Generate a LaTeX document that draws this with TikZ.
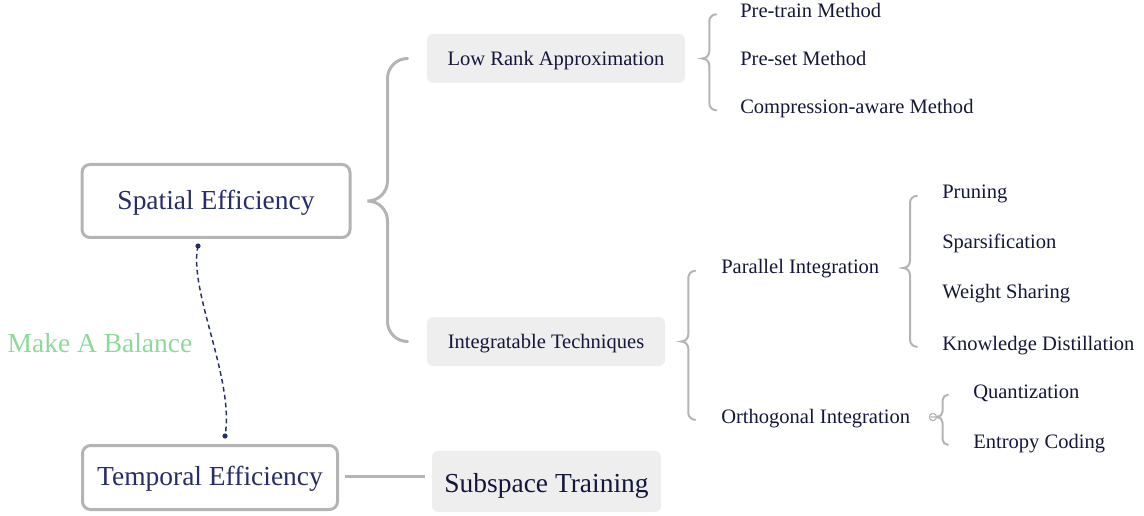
\documentclass[tikz,border=0pt]{standalone}
\usepackage{fontspec}
\setmainfont{Liberation Serif}
\usetikzlibrary{calc}
\definecolor{navy}{RGB}{38,45,105}
\definecolor{ink}{RGB}{20,22,58}
\definecolor{linegray}{RGB}{180,180,180}
\definecolor{boxgray}{RGB}{238,238,238}
\definecolor{balgreen}{RGB}{140,218,152}
\def\px{0.75pt}
\def\leaf{\node[anchor=base west,text=ink,inner sep=0pt,text height=7pt,text depth=2.2pt,font=\fontsize{15.4}{18}\selectfont]}
% brace from a tip coordinate to the first and last child
\newcommand\bracelink[5][1.5pt]{%
  \draw[color=linegray, line width=#1, line cap=round]
    ($ (#3.west -| #2) + (2*#5,0) $) to[out=180,in=90] ($ (#3.west -| #2) + (#5,-#5) $)
    -- ($ (#2) + (#5,#5) $) to[out=270,in=0] (#2)
    to[out=0,in=90] ($ (#2) + (#5,-#5) $)
    -- ($ (#4.west -| #2) + (#5,#5) $) to[out=270,in=180] ($ (#4.west -| #2) + (2*#5,0) $);}
\tikzset{
  topic/.style={draw=linegray, line width=3*\px, rounded corners=8*\px, fill=white, text=navy,
    inner sep=0pt, text height=15pt, text depth=2.4pt, font=\fontsize{20.6}{24}\selectfont},
  branch/.style={fill=boxgray, rounded corners=6*\px, text=ink, inner sep=0pt,
    text height=11pt, text depth=0.6pt, font=\fontsize{15.4}{18}\selectfont},
}

\begin{document}
\begin{tikzpicture}[x=\px,y=\px]
\useasboundingbox (0,0) rectangle (1144,-516);

\node[topic, minimum width=268*\px, minimum height=73*\px] (spatial) at (216,-201) {Spatial Efficiency};
\node[topic, minimum width=255*\px, minimum height=64*\px] (temporal) at (210,-477.5) {Temporal Efficiency};
\node[branch, minimum width=229*\px, minimum height=61*\px, text height=16pt, text depth=0.2pt,
  font=\fontsize{20.6}{24}\selectfont] (subspace) at (546.5,-481.5) {Subspace Training};
\node[branch, minimum width=258*\px, minimum height=49*\px] (lowrank) at (556,-58.5) {Low Rank Approximation};
\node[branch, minimum width=238*\px, minimum height=49*\px] (integ) at (546,-341.5) {Integratable Techniques};

% low rank methods
\leaf (pretrain) at (740,-17.5) {Pre-train Method};
\leaf (preset) at (740,-65.5) {Pre-set Method};
\leaf (compaware) at (740,-113.5) {Compression-aware Method};

% integration
\leaf (parallel) at (721,-274) {Parallel Integration};
\leaf (ortho) at (721,-423) {Orthogonal Integration};
\leaf (pruning) at (942,-199) {Pruning};
\leaf (sparse) at (942,-249) {Sparsification};
\leaf (wshare) at (942,-299) {Weight Sharing};
\leaf (kd) at (942,-350) {Knowledge Distillation};
\leaf (quant) at (973,-398) {Quantization};
\leaf (entropy) at (973,-448) {Entropy Coding};

% braces
\coordinate (s_tip) at ($ (spatial.east) + (16,0) $);
\coordinate (l_tip) at ($ (lowrank.east) + (17,0) $);
\coordinate (i_tip) at ($ (integ.east) + (16,0) $);
\coordinate (p_tip) at (903,-268);
\coordinate (o_tip) at (937,-417);
\bracelink[3*\px]{s_tip}{lowrank}{integ}{20}
\bracelink{l_tip}{pretrain}{compaware}{7}
\bracelink{i_tip}{parallel}{ortho}{7}
\bracelink{p_tip}{pruning}{kd}{7}
\bracelink{o_tip}{quant}{entropy}{5.5}
\draw[linegray, line width=0.9pt] ($ (o_tip) - (4,0) $) circle (3.6) +(-2.2,0) -- +(2.2,0);

% temporal side
\draw[linegray, line width=3*\px] ($ (temporal.east) + (6,1) $) -- ($ (temporal.east -| subspace.west) + (-7,1) $);

% balance between the two
\coordinate (bal_top) at ($ (spatial.south) + (-18,-7) $);
\coordinate (bal_bot) at ($ (temporal.north) + (15,8) $);
\draw[navy, line width=1.1pt, dash pattern=on 3.5pt off 2.5pt] (bal_top) .. controls +(-10,-44) and +(10,56) .. (bal_bot);
\fill[navy] (bal_top) circle (2.6) (bal_bot) circle (2.6);
\node[text=balgreen, font=\fontsize{20.6}{24}\selectfont] (balance) at (100,-343) {Make A Balance};
\end{tikzpicture}
\end{document}
